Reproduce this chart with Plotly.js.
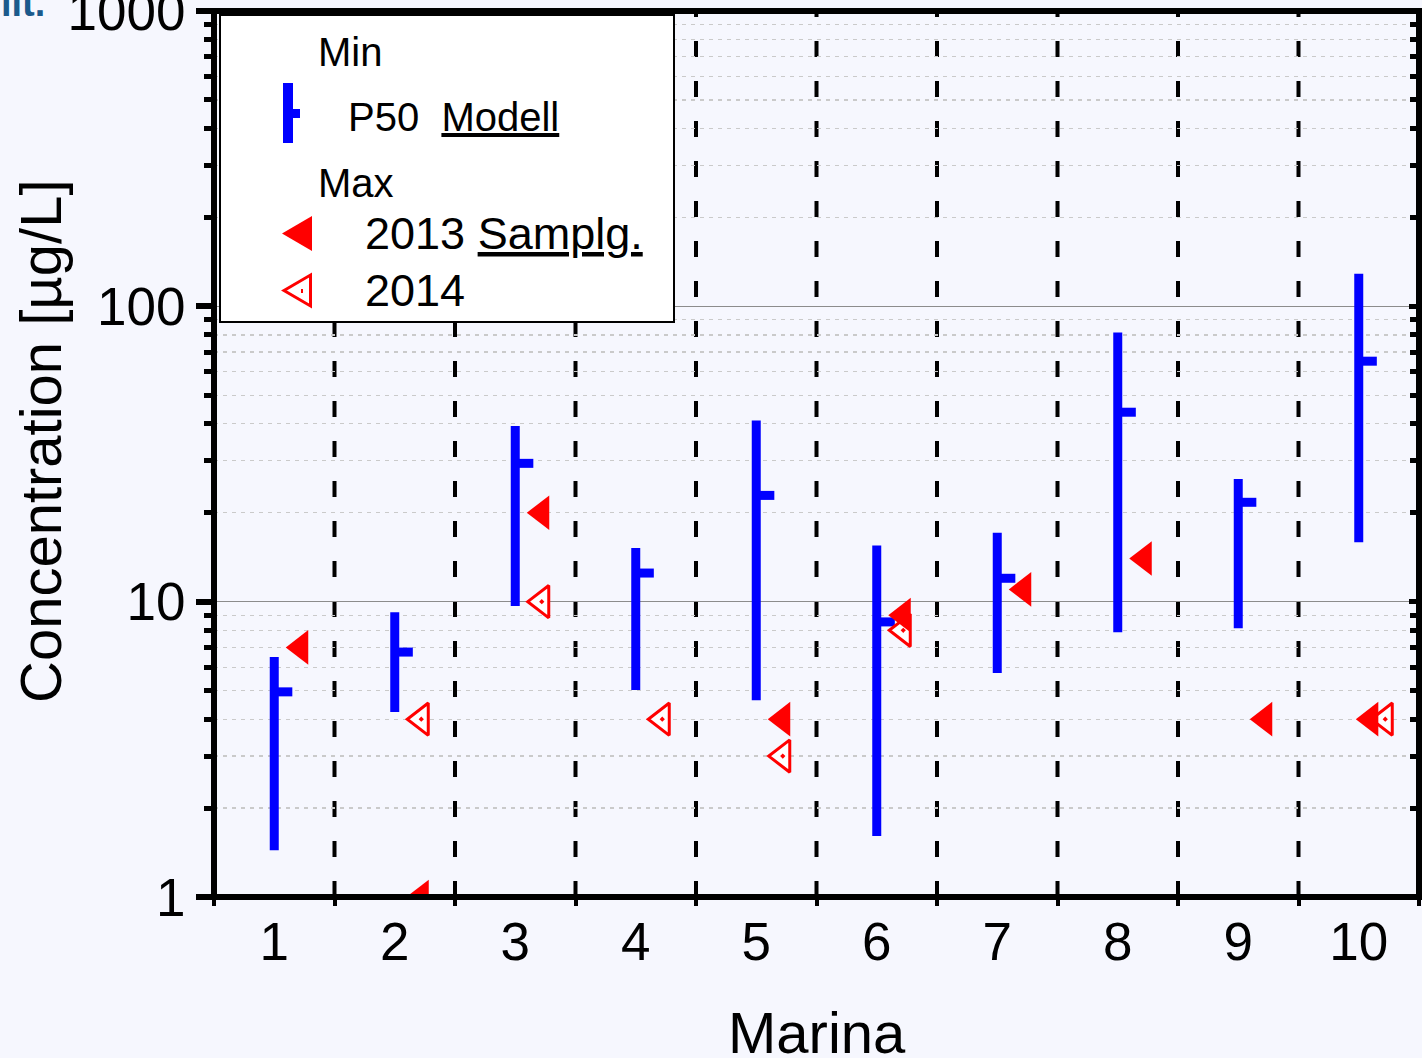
<!DOCTYPE html>
<html>
<head>
<meta charset="utf-8">
<script src="https://cdn.plot.ly/plotly-3.0.1.min.js"></script>
<style>
  html, body { margin: 0; padding: 0; background: #f6f7fe; }
  #chart { width: 1422px; height: 1058px; }
</style>
</head>
<body>
<div id="chart"></div>
<script>
// ---- data ----
const marinas = [1, 2, 3, 4, 5, 6, 7, 8, 9, 10];
const marinaLabels = ['1', '2', '3', '4', '5', '6', '7', '8', '9', '10'];
const modelMin = [1.44, 4.23, 9.66, 5.02, 4.64, 1.61, 5.73, 7.88, 8.13, 15.9];
const modelMax = [6.5, 9.21, 39.3, 15.2, 41.1, 15.5, 17.1, 81.6, 26.0, 129];
const modelP50 = [4.95, 6.75, 29.4, 12.5, 22.9, 8.54, 12.0, 43.8, 21.7, 65.2];
const max2013 = [7, 1, 20, null, 4, 9, 11, 14, 4, 4];
const max2014 = [null, 4, 10, 4, 3, 8, null, null, null, 4];
const yTickVals = [1, 10, 100, 1000];
const yTickText = ['1', '10', '100', '1000'];

// ---- geometry helpers (layout only) ----
const W = 1422, H = 1058;
const M = { l: 214, r: 3, t: 11, b: 161 };
const PW = W - M.l - M.r, PH = H - M.t - M.b;
const px = x => (x - M.l) / PW;
const py = y => (H - M.b - y) / PH;

const FONT = 'Liberation Sans, Arial, Helvetica, sans-serif';
const BLUE = '#0000ff', RED = '#ff0000';

// minor log ticks 2..9 per decade
const minorVals = [];
[1, 10, 100].forEach(d => { for (let k = 2; k <= 9; k++) minorVals.push(k * d); });

// ---- traces ----
const rangeX = [], rangeY = [], p50X = [], p50Y = [];
marinas.forEach((m, i) => {
  rangeX.push(m, m, null); rangeY.push(modelMin[i], modelMax[i], null);
  p50X.push(m, m + 0.15, null); p50Y.push(modelP50[i], modelP50[i], null);
});
const OFF = 0.22;
const x2014 = marinas.map(m => m + OFF);
// when both years coincide, the 2013 marker is nudged left so both stay visible
const x2013 = marinas.map((m, i) => m + (max2014[i] !== null && max2013[i] === max2014[i] ? 0.1 : OFF));

const traces = [
  { x: rangeX, y: rangeY, mode: 'lines', line: { color: BLUE, width: 9 }, hoverinfo: 'skip', showlegend: false },
  { x: p50X, y: p50Y, mode: 'lines', line: { color: BLUE, width: 9 }, hoverinfo: 'skip', showlegend: false },
  { x: x2014, y: max2014, mode: 'markers', name: '2014',
    marker: { symbol: 'triangle-left-dot', size: 28, color: 'white', line: { color: RED, width: 3 } }, showlegend: false },
  { x: x2013, y: max2013, mode: 'markers', name: '2013',
    marker: { symbol: 'triangle-left', size: 30, color: RED, line: { width: 0 } }, showlegend: false },
  { x: [], y: [], yaxis: 'y2', mode: 'markers', showlegend: false, hoverinfo: 'skip' }
];

// ---- shapes ----
const shapes = [];
// vertical dashed separators between marinas
for (let k = 1; k < marinas.length; k++) {
  shapes.push({ type: 'line', xref: 'x', yref: 'paper', x0: k + 0.5, x1: k + 0.5, y0: 0, y1: 1,
    line: { color: 'black', width: 4, dash: '16px,24px' }, layer: 'below' });
}
// frame
shapes.push({ type: 'rect', xref: 'paper', yref: 'paper', x0: 0, x1: 1, y0: 0, y1: 1,
  line: { color: 'black', width: 6 }, fillcolor: 'rgba(0,0,0,0)', layer: 'above' });
// legend box
shapes.push({ type: 'rect', xref: 'paper', yref: 'paper', x0: px(220), x1: px(674), y0: py(322), y1: py(15),
  line: { color: 'black', width: 2 }, fillcolor: 'white', layer: 'above' });
// legend: blue model symbol
shapes.push({ type: 'rect', xref: 'paper', yref: 'paper', x0: px(283), x1: px(293), y0: py(143), y1: py(83),
  line: { width: 0 }, fillcolor: BLUE, layer: 'above' });
shapes.push({ type: 'rect', xref: 'paper', yref: 'paper', x0: px(292), x1: px(300), y0: py(118), y1: py(109),
  line: { width: 0 }, fillcolor: BLUE, layer: 'above' });
// legend: filled triangle
shapes.push({ type: 'path', xref: 'paper', yref: 'paper',
  path: `M${px(282)},${py(233.5)} L${px(312)},${py(216)} L${px(312)},${py(251)} Z`,
  line: { width: 0 }, fillcolor: RED, layer: 'above' });
// legend: open triangle with dot
shapes.push({ type: 'path', xref: 'paper', yref: 'paper',
  path: `M${px(284)},${py(290.5)} L${px(310.5)},${py(275)} L${px(310.5)},${py(306)} Z`,
  line: { width: 3, color: RED }, fillcolor: 'white', layer: 'above' });
shapes.push({ type: 'rect', xref: 'paper', yref: 'paper', x0: px(301), x1: px(303), y0: py(293), y1: py(289),
  line: { width: 0 }, fillcolor: RED, layer: 'above' });

// ---- annotations ----
const legAnn = (text, x, y, size) => ({
  text, xref: 'paper', yref: 'paper', x: px(x), y: py(y), xanchor: 'left', yanchor: 'middle',
  showarrow: false, font: { family: FONT, size, color: 'black' }
});
const annotations = [
  legAnn('Min', 316, 52, 40),
  legAnn('P50&nbsp; <u>Modell</u>', 346, 117, 40),
  legAnn('Max', 316, 183, 40),
  legAnn('2013 <u>Samplg.</u>', 363, 233, 45),
  legAnn('2014', 363, 290, 45),
  { text: 'Concentration [µg/L]', xref: 'paper', yref: 'paper', x: px(40), y: py(441),
    xanchor: 'center', yanchor: 'middle', textangle: -90, showarrow: false,
    font: { family: FONT, size: 58, color: 'black' } },
  { text: 'Marina', xref: 'paper', yref: 'paper', x: px(816.5), y: py(1032),
    xanchor: 'center', yanchor: 'middle', showarrow: false,
    font: { family: FONT, size: 58, color: 'black' } },
  { text: '<b>lit.</b>', xref: 'paper', yref: 'paper', x: px(47), y: py(26), xanchor: 'right', yanchor: 'bottom',
    showarrow: false, font: { family: FONT, size: 38, color: '#1b5a8c' } }
];

const layout = {
  width: W, height: H,
  margin: M,
  paper_bgcolor: '#f6f7fe', plot_bgcolor: '#f6f7fe',
  font: { family: FONT, color: 'black' },
  showlegend: false,
  xaxis: {
    range: [0.5, 10.5], tickmode: 'array', tickvals: marinas, ticktext: marinaLabels,
    ticks: '', showgrid: false, zeroline: false, showline: false, ticklabelstandoff: 9,
    tickfont: { family: FONT, size: 53, color: 'black' },
    minor: { tickmode: 'linear', tick0: 0.5, dtick: 1, ticks: 'outside', ticklen: 8, tickwidth: 4, tickcolor: 'black', showgrid: false }
  },
  yaxis: {
    type: 'log', range: [0, 3], tickmode: 'array', tickvals: yTickVals, ticktext: yTickText,
    ticks: 'outside', ticklen: 17, tickwidth: 6, tickcolor: 'black', ticklabeloverflow: 'allow',
    showgrid: true, gridcolor: '#8c8c8c', gridwidth: 1.5, zeroline: false, showline: false,
    tickfont: { family: FONT, size: 53, color: 'black' },
    minor: { tickmode: 'array', tickvals: minorVals, ticks: 'outside', ticklen: 9, tickwidth: 5, tickcolor: 'black',
      showgrid: true, gridcolor: '#cacaca', gridwidth: 1.2, griddash: '4px,5px' }
  },
  yaxis2: {
    type: 'log', range: [0, 3], overlaying: 'y', side: 'right', tickmode: 'array', tickvals: [10, 100],
    ticks: 'inside', ticklen: 10, tickwidth: 5, tickcolor: 'black', showticklabels: false,
    showgrid: false, zeroline: false, showline: false,
    minor: { tickmode: 'array', tickvals: minorVals, ticks: 'inside', ticklen: 9, tickwidth: 5, tickcolor: 'black', showgrid: false }
  },
  shapes, annotations
};

Plotly.newPlot('chart', traces, layout, { staticPlot: true, displayModeBar: false });
</script>
</body>
</html>
